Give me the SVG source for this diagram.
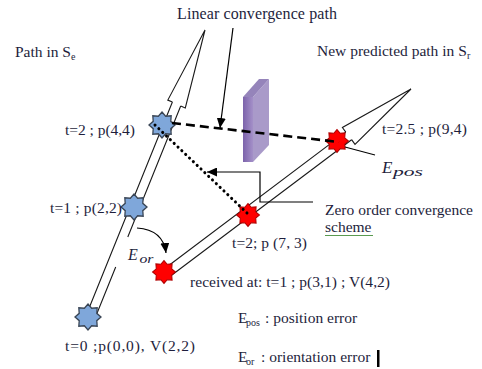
<svg xmlns="http://www.w3.org/2000/svg" width="482" height="369" viewBox="0 0 482 369">
<defs>
<style>
text{font-family:"Liberation Serif","Times New Roman",serif;fill:#1e1e3c;font-size:15.5px}
.it{font-style:italic}
.sub{font-size:10px}
.head{fill:#fff;stroke:#1a1a1a;stroke-width:1.1}
.shaft{fill:none;stroke:#1a1a1a;stroke-width:1.1}
.blue{fill:#7fa7da;stroke:#3a4656;stroke-width:1.3}
.red{fill:#ff0000;stroke:#b00000;stroke-width:1.2}
.conn{fill:none;stroke:#000;stroke-width:1.2}
</style>
<polygon id="star" points="0,-13 3.64,-8.78 9.19,-9.19 8.78,-3.64 13,0 8.78,3.64 9.19,9.19 3.64,8.78 0,13 -3.64,8.78 -9.19,9.19 -8.78,3.64 -13,0 -8.78,-3.64 -9.19,-9.19 -3.64,-8.78"/>
<marker id="ah" markerUnits="userSpaceOnUse" markerWidth="10" markerHeight="9" refX="10" refY="4.5" orient="auto" viewBox="0 0 10 9"><path d="M0,0 L10,4.5 L0,9 z" fill="#000"/></marker>
<linearGradient id="wf" x1="0" x2="1" y1="0" y2="0"><stop offset="0" stop-color="#7c63ab"/><stop offset="1" stop-color="#a490c8"/></linearGradient>
</defs>

<g id="path-se">
<path class="head" d="M172.4,102 L167.8,100.1 L205,30 L185.3,107.9 L180.7,106"/>
<path class="shaft" d="M172.4,102 L86.3,315 M180.7,106 L127.8,237 M115.7,267 L95.1,318"/>
</g>
<g id="path-sr">
<path class="head" d="M345.8,132.1 L342.4,127.5 L411,89 L355,144.3 L351.6,139.7"/>
<path class="shaft" d="M345.8,132.1 L165.1,268.2 M351.6,139.7 L170.9,275.8"/>
</g>

<g id="wall">
<polygon points="253,97 269,79 269,145 253,162" fill="#a99ac9"/>
<polygon points="243,97 259,79 269,79 253,97" fill="#9584ba"/>
<rect x="243" y="97" width="10" height="65" fill="url(#wf)"/>
</g>

<g id="node-s0"><use href="#star" class="blue" transform="translate(88,317)"/></g>
<g id="node-s1"><use href="#star" class="blue" transform="translate(134,207)"/></g>
<g id="node-s2"><use href="#star" class="blue" transform="translate(162,125)"/></g>
<g id="node-r1"><use href="#star" class="red" transform="translate(164,272) scale(0.88)"/></g>
<g id="node-r2"><use href="#star" class="red" transform="translate(248,215) scale(0.88)"/></g>
<g id="node-r25"><use href="#star" class="red" transform="translate(337,141) scale(0.88)"/></g>

<g id="connectors">
<path d="M172,123 L339,142" fill="none" stroke="#000" stroke-width="2.6" stroke-dasharray="9 5"/>
<path d="M155,125 L247,213" fill="none" stroke="#000" stroke-width="3" stroke-dasharray="0.1 5.2" stroke-linecap="round"/>
<path class="conn" d="M233,28 L220,128" marker-end="url(#ah)"/>
<path class="conn" d="M313,202 L260,202 L260,172 L207,172" marker-end="url(#ah)"/>
<path class="conn" d="M137,228 C152,229 164,236 166,253" marker-end="url(#ah)"/>
<path class="conn" d="M345,147 L375,155"/>
</g>

<g id="labels">
<text x="177" y="19" style="font-size:16px" textLength="160">Linear convergence path</text>
<text x="15" y="57">Path in S</text><text x="71" y="60" class="sub">e</text>
<text x="317" y="56">New predicted path in S</text><text x="467" y="59" class="sub">r</text>
<text x="65" y="135" textLength="70">t=2 ; p(4,4)</text>
<text x="50" y="213" textLength="72">t=1 ; p(2,2)</text>
<text x="65" y="351" textLength="130">t=0 ;p(0,0), V(2,2)</text>
<text x="382" y="134" textLength="85">t=2.5 ; p(9,4)</text>
<text x="382" y="173" class="it" style="font-size:17px">E</text><text x="393" y="176" class="it" style="font-size:13px" textLength="30" lengthAdjust="spacingAndGlyphs">pos</text>
<text x="325" y="215" textLength="148">Zero order convergence</text>
<text x="325" y="232">scheme</text>
<line x1="325" y1="235.5" x2="373" y2="235.5" stroke="#5a9a50" stroke-width="1.2"/>
<text x="232" y="248" textLength="75">t=2; p (7, 3)</text>
<text x="128" y="260" class="it" style="font-size:16px">E</text><text x="139.5" y="263" class="it" style="font-size:13px" textLength="14" lengthAdjust="spacingAndGlyphs">or</text>
<text x="190" y="287" textLength="200">received at: t=1 ; p(3,1) ; V(4,2)</text>
<text x="238" y="323">E</text><text x="246" y="326" class="sub">pos</text><text x="265" y="323">: position error</text>
<text x="238" y="362">E</text><text x="246" y="365" class="sub">or</text><text x="261" y="362">: orientation error</text>
<rect x="377" y="350" width="2.5" height="17" fill="#000"/>
</g>
</svg>
